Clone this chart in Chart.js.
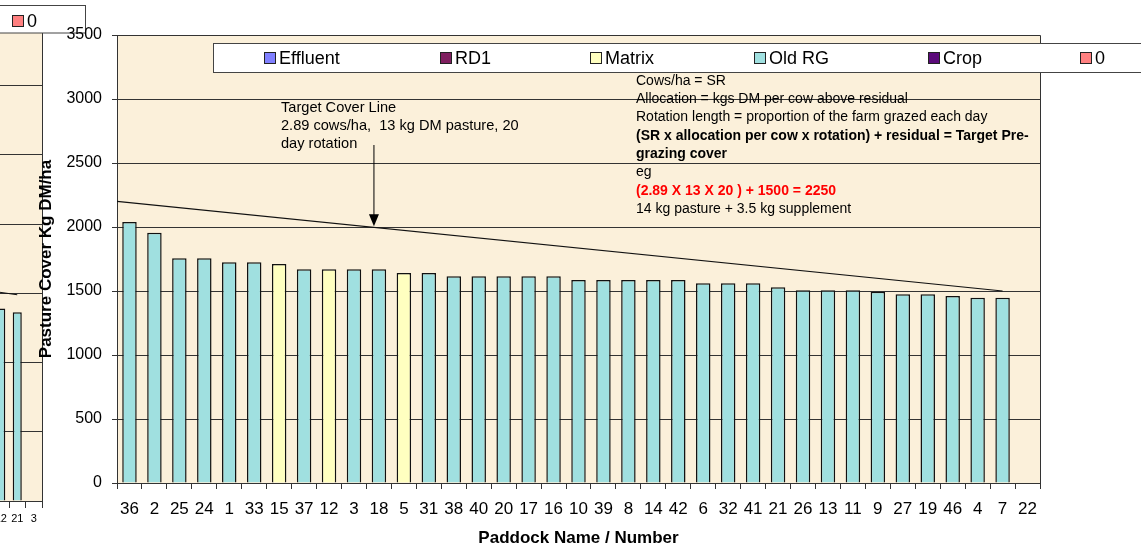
<!DOCTYPE html>
<html>
<head>
<meta charset="utf-8">
<script src="https://cdn.jsdelivr.net/npm/chart.js@4.4.1/dist/chart.umd.min.js"></script>
<style>
  html, body { margin: 0; padding: 0; background: #fff; overflow: hidden; }
  #wrap { position: relative; width: 1141px; height: 551px; overflow: hidden; }
  #leftBox { position: absolute; left: -60px; top: 0; }
  #mainBox { position: absolute; left: 0; top: 0; }
</style>
</head>
<body>
<div id="wrap">
  <div id="leftBox"><canvas id="leftChart" width="160" height="551"></canvas></div>
  <div id="mainBox"><canvas id="myChart" width="1141" height="551"></canvas></div>
</div>
<script>
// paddocks, sorted by cover
const paddocks = ['36','2','25','24','1','33','15','37','12','3','18','5','31','38','40','20','17','16','10',
                  '39','8','14','42','6','32','41','21','26','13','11','9','27','19','46','4','7','22'];
const oldRG = [2040,1955,1755,1755,1725,1725,null,1670,null,1670,1670,null,1640,1615,1615,1615,1615,1615,1585,
               1585,1585,1585,1585,1560,1560,1560,1530,1505,1505,1505,1495,1475,1475,1460,1448,1448,null];
const matrix = [null,null,null,null,null,null,1710,null,1670,null,null,1640,null,null,null,null,null,null,null,
                null,null,null,null,null,null,null,null,null,null,null,null,null,null,null,null,null,null];
const empty = paddocks.map(() => null);
// target cover line: start at axis, end at paddock 7
const targetLine = [{x: 0, y: 2200}, {x: 35.5, y: 1500}];

// the other chart peeking in at the left edge (only its last paddocks show)
const leftPaddocks = ['12','21','3'];
const leftOldRG = [1390, 1364, null];
const leftTarget = [{x: 0, y: 1515}, {x: 1.5, y: 1490}];

const legendNames = ['Effluent','RD1','Matrix','Old RG','Crop','0'];
const legendColors = ['#8080FF','#7F1F5F','#FFFFC0','#A0E0E0','#5B0A7A','#FF8080'];

const FONT = 'Arial, "Liberation Sans", sans-serif';
const PLOT_BG = '#FBF0DA';
const LINE = '#333333';

Chart.defaults.font.family = FONT;
Chart.defaults.color = '#000';

function barSet(label, data, i) {
  return {
    label: label, data: data,
    backgroundColor: legendColors[i], borderColor: '#111', borderWidth: 1.5,
    grouped: false, barPercentage: 0.58, categoryPercentage: 1.0
  };
}

const mainPlugin = {
  id: 'mainExtras',
  beforeDraw(chart) {
    const {ctx, chartArea: a} = chart;
    ctx.save();
    ctx.fillStyle = PLOT_BG;
    ctx.fillRect(a.left, a.top, a.right - a.left, a.bottom - a.top);
    ctx.restore();
  },
  afterDraw(chart) {
    const {ctx, chartArea: a} = chart;
    ctx.save();
    // plot frame top / right
    ctx.strokeStyle = LINE;
    ctx.lineWidth = 1;
    ctx.beginPath();
    ctx.moveTo(a.left, a.top + 0.5);
    ctx.lineTo(a.right + 0.5, a.top + 0.5);
    ctx.lineTo(a.right + 0.5, a.bottom);
    ctx.stroke();

    // legend box
    ctx.fillStyle = '#fff';
    ctx.fillRect(213.5, 43.5, 960, 29);
    ctx.strokeStyle = '#444';
    ctx.strokeRect(213.5, 43.5, 960, 29);
    const sq = [264, 440, 590, 754, 928, 1080];
    ctx.font = '18px ' + FONT;
    ctx.textBaseline = 'middle';
    legendNames.forEach((n, i) => {
      ctx.fillStyle = legendColors[i];
      ctx.fillRect(sq[i] + 0.5, 52.5, 11, 11);
      ctx.strokeStyle = '#222';
      ctx.strokeRect(sq[i] + 0.5, 52.5, 11, 11);
      ctx.fillStyle = '#000';
      ctx.fillText(n, sq[i] + 15, 59);
    });

    // target cover annotation
    ctx.font = '14.6px ' + FONT;
    ctx.fillStyle = '#000';
    ['Target Cover Line', '2.89 cows/ha,  13 kg DM pasture, 20', 'day rotation']
      .forEach((t, i) => ctx.fillText(t, 281, 108 + i * 18));
    const ax = chart.scales.x2.getPixelForValue(10.3);
    const ay = chart.scales.y.getPixelForValue(2005);
    ctx.strokeStyle = '#000';
    ctx.beginPath();
    ctx.moveTo(ax, 145);
    ctx.lineTo(ax, ay - 10);
    ctx.stroke();
    ctx.beginPath();
    ctx.moveTo(ax - 5, ay - 12);
    ctx.lineTo(ax + 5, ay - 12);
    ctx.lineTo(ax, ay);
    ctx.closePath();
    ctx.fill();

    // formula note
    const note = [
      ['Cows/ha = SR', '', '#000'],
      ['Allocation = kgs DM per cow above residual', '', '#000'],
      ['Rotation length = proportion of the farm grazed each day', '', '#000'],
      ['(SR x allocation per cow x rotation) + residual = Target Pre-', 'bold ', '#000'],
      ['grazing cover', 'bold ', '#000'],
      ['eg', '', '#000'],
      ['(2.89 X 13 X 20 ) + 1500 = 2250', 'bold ', '#FF0000'],
      ['14 kg pasture + 3.5 kg supplement', '', '#000']
    ];
    note.forEach((r, i) => {
      ctx.font = r[1] + '14px ' + FONT;
      ctx.fillStyle = r[2];
      ctx.fillText(r[0], 636, 81 + i * 18.3);
    });
    ctx.restore();
  }
};

new Chart(document.getElementById('myChart'), {
  type: 'bar',
  data: {
    labels: paddocks,
    datasets: [
      barSet('Effluent', empty, 0),
      barSet('RD1', empty, 1),
      barSet('Matrix', matrix, 2),
      barSet('Old RG', oldRG, 3),
      barSet('Crop', empty, 4),
      barSet('0', empty, 5),
      {
        type: 'line', label: 'Target Cover Line', data: targetLine, xAxisID: 'x2',
        borderColor: '#111', borderWidth: 1.2, pointRadius: 0, fill: false
      }
    ]
  },
  options: {
    responsive: false,
    animation: false,
    layout: { padding: { left: 0, top: 35, right: 101, bottom: 0 } },
    plugins: { legend: { display: false }, tooltip: { enabled: false } },
    scales: {
      x: {
        offset: true,
        grid: { drawOnChartArea: false, tickLength: 6, color: LINE },
        border: { color: LINE },
        ticks: { font: { size: 17 }, color: '#000', padding: 10, autoSkip: false, maxRotation: 0 },
        title: { display: true, text: 'Paddock Name / Number', font: { size: 17, weight: 'bold' },
                 color: '#000', padding: { top: 0, bottom: 2.8 } },
        afterFit(s) { s.height = 68; }
      },
      x2: { type: 'linear', display: false, offset: false, min: 0, max: paddocks.length },
      y: {
        min: 0, max: 3500,
        ticks: { stepSize: 500, font: { size: 16 }, color: '#000', padding: 10, callback: v => String(v) },
        grid: { color: LINE, tickLength: 5 },
        border: { color: LINE },
        title: { display: true, text: 'Pasture Cover Kg DM/ha', font: { size: 17, weight: 'bold' },
                 color: '#000', padding: { top: 36, bottom: 0 } },
        afterFit(s) { s.width = 117; }
      }
    }
  },
  plugins: [mainPlugin]
});

// left chart, drawn underneath
const leftPlugin = {
  id: 'leftExtras',
  beforeDraw(chart) {
    const {ctx, chartArea: a} = chart;
    ctx.save();
    ctx.fillStyle = PLOT_BG;
    ctx.fillRect(a.left, a.top, a.right - a.left, a.bottom - a.top);
    ctx.restore();
  },
  afterDraw(chart) {
    const {ctx, chartArea: a} = chart;
    ctx.save();
    ctx.strokeStyle = LINE;
    ctx.beginPath();
    ctx.moveTo(a.right + 0.5, a.top);
    ctx.lineTo(a.right + 0.5, a.bottom);
    ctx.stroke();
    // legend box (only its "0" item shows)
    ctx.fillStyle = '#fff';
    ctx.fillRect(-10, 5.5, 155.5, 27.5);
    ctx.strokeStyle = '#444';
    ctx.strokeRect(-10, 5.5, 155.5, 27.5);
    ctx.fillStyle = legendColors[5];
    ctx.fillRect(72.5, 15.5, 11, 11);
    ctx.strokeStyle = '#222';
    ctx.strokeRect(72.5, 15.5, 11, 11);
    ctx.fillStyle = '#000';
    ctx.font = '18px ' + FONT;
    ctx.textBaseline = 'middle';
    ctx.fillText('0', 87, 22);
    ctx.restore();
  }
};

new Chart(document.getElementById('leftChart'), {
  type: 'bar',
  data: {
    labels: leftPaddocks,
    datasets: [
      { label: 'Old RG', data: leftOldRG, backgroundColor: legendColors[3], borderColor: '#111',
        borderWidth: 1.5, grouped: false, barPercentage: 0.55, categoryPercentage: 1.0 },
      { type: 'line', label: 'Target Cover Line', data: leftTarget, xAxisID: 'x2',
        borderColor: '#111', borderWidth: 1.2, pointRadius: 0 }
    ]
  },
  options: {
    responsive: false,
    animation: false,
    layout: { padding: { left: 0, top: 16.5, right: 58, bottom: 0 } },
    plugins: { legend: { display: false }, tooltip: { enabled: false } },
    scales: {
      x: {
        offset: true,
        grid: { drawOnChartArea: false, tickLength: 7, color: LINE },
        border: { color: LINE },
        ticks: { font: { size: 11 }, color: '#000', padding: 4, autoSkip: false, maxRotation: 0 },
        afterFit(s) { s.height = 50; }
      },
      x2: { type: 'linear', display: false, offset: false, min: 0, max: leftPaddocks.length },
      y: {
        min: 0, max: 3500,
        ticks: { stepSize: 500, display: false },
        grid: { color: LINE, tickLength: 0 },
        border: { display: false },
        afterFit(s) { s.width = 52.5; }
      }
    }
  },
  plugins: [leftPlugin]
});
</script>
</body>
</html>
